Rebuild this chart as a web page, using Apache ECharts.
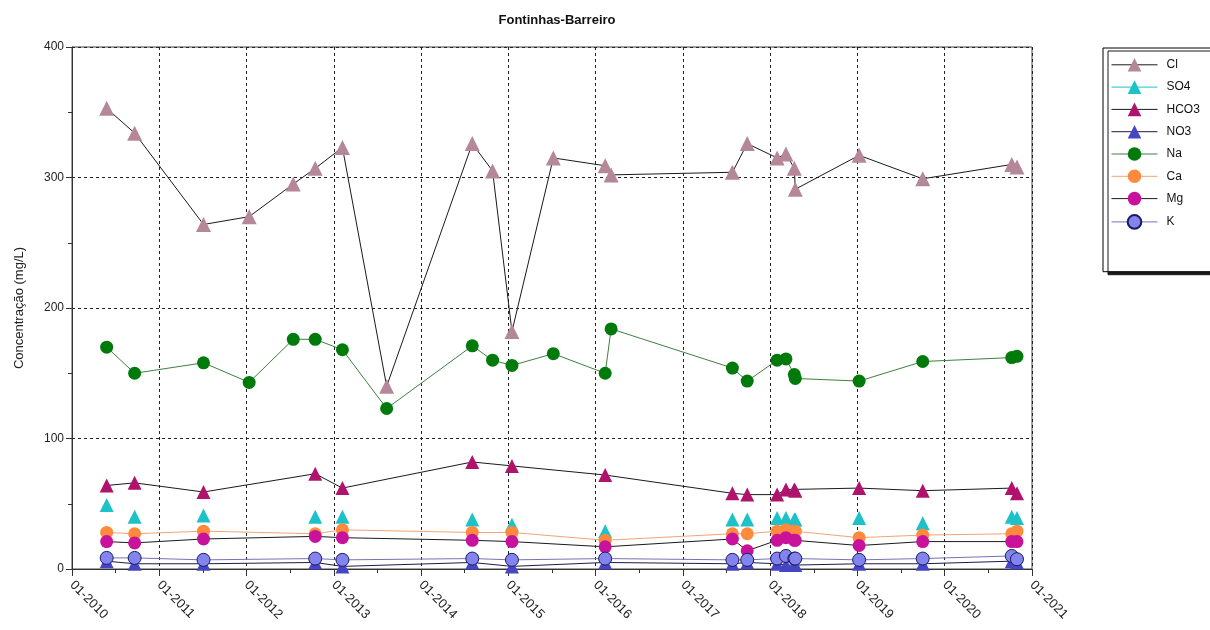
<!DOCTYPE html>
<html>
<head>
<meta charset="utf-8">
<script src="https://cdn.jsdelivr.net/npm/echarts@6/dist/echarts.min.js"></script>
<style>
  html, body { margin: 0; padding: 0; background: #fff; }
  #chart { width: 1210px; height: 630px; }
</style>
</head>
<body>
<div id="chart"></div>
<script>
// Sampling dates (YYYY-MM-DD) at Fontinhas-Barreiro
const sampleDates = [
  '2010-05-26', '2010-09-20', '2011-07-05', '2012-01-12', '2012-07-15', '2012-10-15',
  '2013-02-06', '2013-08-10', '2014-08-03', '2014-10-27', '2015-01-16', '2015-07-08',
  '2016-02-10', '2016-03-06', '2017-07-27', '2017-09-27', '2018-01-30', '2018-03-08',
  '2018-04-12', '2018-04-16', '2019-01-08', '2019-10-01', '2020-10-08', '2020-10-30'
];

// Concentrations in mg/L (null = not analysed)
const cl   = [353, 334, 264, 270, 295, 307, 323, 140, 326, 305, 182, 315, 309, 302, 304, 326, 315, 318, 307, 291, 317, 299, 310, 308];
const so4  = [49, 40, 41, null, null, 40, 40, null, 38, null, 34, null, 29, null, 38, 38, 39, 39, 38, 38, 39, 35, 40, 39];
const hco3 = [64, 66, 59, null, null, 73, 62, null, 82, null, 79, null, 72, null, 58, 57, 57, 61, 61, 60, 62, 60, 62, 58];
const no3  = [6, 4, 4, null, null, 5, 2, null, 5, null, 2, null, 5, null, 4, 5, 4, 3, 3, 3, 4, 4, 6, 5];
const na   = [170, 150, 158, 143, 176, 176, 168, 123, 171, 160, 156, 165, 150, 184, 154, 144, 160, 161, 149, 146, 144, 159, 162, 163];
const ca   = [28, 27, 29, null, null, 27, 30, null, 28, null, 28, null, 22, null, 27, 27, 29, 30, 29, 29, 24, 26, 27, 29];
const mg   = [21, 20, 23, null, null, 25, 24, null, 22, null, 21, null, 17, null, 23, 14, 22, 24, 22, 22, 18, 21, 21, 21];
const k    = [8.5, 8.5, 7, null, null, 8, 7, null, 8, null, 7, null, 8, null, 7, 7, 8, 10, 8, 8, 7, 8, 10, 7.5];

// Axis tick labels
const xTickLabels = ['01-2010', '01-2011', '01-2012', '01-2013', '01-2014', '01-2015',
                     '01-2016', '01-2017', '01-2018', '01-2019', '01-2020', '01-2021'];
const yTicks = [0, 100, 200, 300, 400];

const FONT = '"Liberation Sans", Arial, sans-serif';

// Date string -> fractional year, so the x axis can be a plain value axis
function toYear(s) {
  const [y, m, d] = s.split('-').map(Number);
  const start = Date.UTC(y, 0, 1), end = Date.UTC(y + 1, 0, 1);
  return y + (Date.UTC(y, m - 1, d) - start) / (end - start);
}

function makeSeries(name, values, symbol, size, fill, lineColor, extra) {
  return Object.assign({
    name: name,
    type: 'line',
    symbol: symbol,
    symbolSize: size,
    connectNulls: true,
    itemStyle: { color: fill },
    lineStyle: { color: lineColor, width: 1 },
    emphasis: { disabled: true },
    data: sampleDates
      .map((d, i) => [toYear(d), values[i]])
      .filter(p => p[1] !== null)
  }, extra || {});
}

const series = [
  makeSeries('Cl',   cl,   'triangle', 15, '#b48898', '#1a1a1a'),
  makeSeries('SO4',  so4,  'triangle', 14, '#1cc2c8', '#1cc2c8', { lineStyle: { color: '#1cc2c8', width: 1, opacity: 0 } }),
  makeSeries('HCO3', hco3, 'triangle', 14, '#b0136c', '#1a1a1a'),
  makeSeries('NO3',  no3,  'triangle', 14, '#4646c4', '#1a1a50'),
  makeSeries('Na',   na,   'circle',   13, '#007a0a', '#3f7f3f'),
  makeSeries('Ca',   ca,   'circle',   13, '#ff8a3c', '#f2a474'),
  makeSeries('Mg',   mg,   'circle',   13, '#c8129c', '#1a1a1a'),
  makeSeries('K',    k,    'circle',   13, '#8484ee', '#7474b4', { itemStyle: { color: '#8484ee', borderColor: '#1a1a60', borderWidth: 1 } })
];

const legendData = series.map(s => {
  const item = { name: s.name };
  if (s.name === 'SO4') item.lineStyle = { color: '#1cc2c8', width: 1, opacity: 1 };
  return item;
});

const chart = echarts.init(document.getElementById('chart'), null, { renderer: 'canvas' });
chart.setOption({
  animation: false,
  backgroundColor: '#fff',
  textStyle: { fontFamily: FONT },
  title: {
    text: 'Fontinhas-Barreiro',
    left: 552,
    top: 9,
    textAlign: 'center',
    textStyle: { fontFamily: FONT, fontSize: 13, fontWeight: 'bold', color: '#111' }
  },
  legend: {
    orient: 'vertical',
    left: 1103,
    top: 48,
    data: legendData,
    itemWidth: 46,
    itemHeight: 17,
    itemGap: 8.7,
    padding: [10, 60, 42, 8],
    borderColor: '#000',
    borderWidth: 1,
    backgroundColor: '#fff',
    shadowColor: '#1a1a1a',
    shadowBlur: 0,
    shadowOffsetX: 5,
    shadowOffsetY: 3,
    lineStyle: { width: 1 },
    textStyle: { fontFamily: FONT, fontSize: 12, color: '#111', padding: [0, 0, 0, 4] }
  },
  grid: {
    left: 72, right: 178, top: 47, bottom: 61,
    show: true,
    borderColor: '#444',
    borderWidth: 1
  },
  xAxis: {
    type: 'value',
    min: 2010,
    max: 2021,
    interval: 1,
    axisLine: { show: true, lineStyle: { color: '#333', width: 1 } },
    axisTick: { show: true, length: 7, lineStyle: { color: '#333' } },
    minorTick: { show: true, splitNumber: 2, length: 4, lineStyle: { color: '#333' } },
    splitLine: { show: true, lineStyle: { color: '#222', type: [3, 3], width: 1 } },
    axisLabel: {
      rotate: -45,
      margin: 14,
      fontFamily: FONT,
      fontSize: 13,
      color: '#222',
      formatter: v => xTickLabels[Math.round(v - 2010)] || ''
    }
  },
  yAxis: {
    type: 'value',
    min: yTicks[0],
    max: yTicks[yTicks.length - 1],
    interval: 100,
    name: 'Concentração (mg/L)',
    nameLocation: 'middle',
    nameGap: 46,
    nameTextStyle: { fontFamily: FONT, fontSize: 13, color: '#222' },
    axisLine: { show: true, lineStyle: { color: '#333', width: 1 } },
    axisTick: { show: true, length: 6, lineStyle: { color: '#333' } },
    minorTick: { show: true, splitNumber: 2, length: 4, lineStyle: { color: '#333' } },
    splitLine: { show: true, lineStyle: { color: '#222', type: [3, 3], width: 1 } },
    axisLabel: { fontFamily: FONT, fontSize: 12, color: '#222', margin: 8 }
  },
  series: series
});
</script>
</body>
</html>
